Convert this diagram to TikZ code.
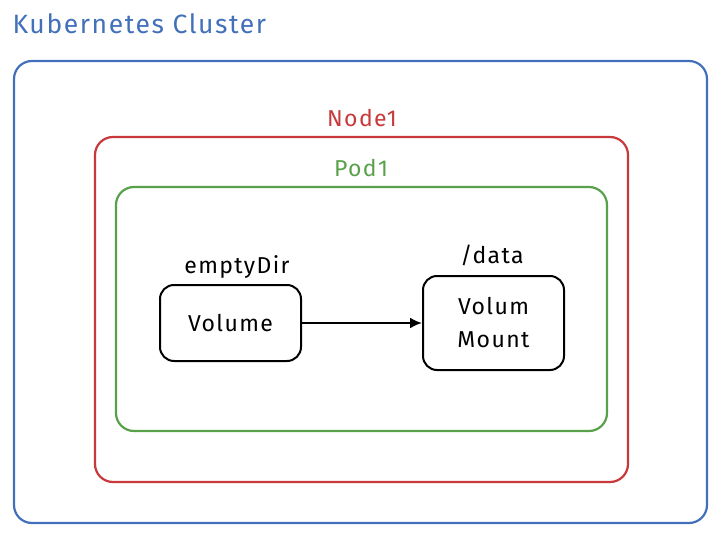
\documentclass[tikz,border=0pt]{standalone}
\usepackage{fontspec}
\setmainfont{Fira Sans}[LetterSpace=6]
\usetikzlibrary{arrows.meta, positioning}
\definecolor{kblue}{HTML}{4270BA}
\definecolor{kred}{HTML}{C7393A}
\definecolor{kgreen}{HTML}{58A14A}
\newcommand{\lbl}{\fontsize{23}{33}\selectfont}

\begin{document}
\begin{tikzpicture}[x=1pt, y=-1pt,
  frame/.style={draw, rounded corners=18pt, line width=2.2pt},
  volbox/.style={draw, rounded corners=14pt, line width=2pt, minimum width=141pt, align=center, font=\lbl}]
\useasboundingbox (0, 0) rectangle (723, 543);
\node[frame, kblue, minimum width=693pt, minimum height=462pt] (cluster) at (360.5, 292) {};
\node[frame, kred, minimum width=533pt, minimum height=345pt] (node1) at (361.5, 309.5) {};
\node[frame, kgreen, minimum width=491pt, minimum height=244pt] (pod1) at (361.5, 309) {};
\node[anchor=west, text=kblue, font=\fontsize{26.5}{30}\selectfont] (cltitle) at (9, 24) {Kubernetes Cluster};
\node[text=kred, font=\lbl] (nodetitle) at (362, 118) {Node1};
\node[text=kgreen, font=\lbl] (podtitle) at (361, 168) {Pod1};
\node[volbox, minimum height=76pt] (vol) at (230.5, 323) {Volume};
\node[volbox, minimum height=94pt] (mount) at (493.5, 323) {Volum\\Mount};
\node[font=\lbl] (emptydir) at (237, 267) {emptyDir};
\node[font=\lbl] (datadir) at (492, 255) {/data};
\draw[-{Latex[length=12pt, width=11pt]}, line width=2.2pt] (vol) to (mount);
\end{tikzpicture}
\end{document}
